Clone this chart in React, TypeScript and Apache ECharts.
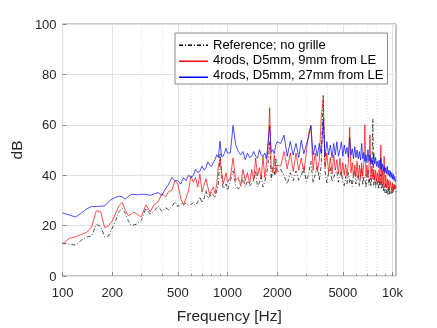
import React, { useEffect, useRef } from 'react';
import * as echarts from 'echarts';

// Frequency bins [Hz]
const freqHz = [
  100, 110, 120, 130, 140, 150, 160, 170, 180, 190, 200, 210, 220, 230, 240, 250, 260, 270, 280, 290, 300,
  320, 340, 360, 380, 400, 420, 440, 460, 480, 500, 520, 540, 560, 580, 600, 620, 640, 660, 680, 700,
  720, 740, 760, 780, 800, 820, 840, 860, 880, 900, 920, 940, 960, 980, 1000,
  1040, 1080, 1120, 1160, 1200, 1240, 1280, 1320, 1360, 1400, 1440, 1480, 1520, 1560, 1600, 1640, 1680,
  1720, 1760, 1800, 1840, 1880, 1920, 1960, 2000,
  2100, 2200, 2300, 2400, 2500, 2600, 2700, 2800, 2900, 3000,
  3100, 3200, 3300, 3400, 3500, 3600, 3700, 3800, 3900, 4000,
  4100, 4200, 4300, 4400, 4500, 4600, 4700, 4800, 4900, 5000,
  5100, 5200, 5300, 5400, 5500, 5600, 5700, 5800, 5900, 6000,
  6100, 6200, 6300, 6400, 6500, 6600, 6700, 6800, 6900, 7000,
  7100, 7200, 7300, 7400, 7500, 7600, 7700, 7800, 7900, 8000,
  8100, 8200, 8300, 8400, 8500, 8600, 8700, 8800, 8900, 9000,
  9100, 9200, 9300, 9400, 9500, 9600, 9700, 9800, 9900, 10000,
  10100, 10200, 10300, 10400, 10500,
];

// Reference; no grille [dB]
const referenceDb = [
  13.0, 12.6, 12.3, 14.2, 15.5, 15.8, 20.5, 19.7, 15.5, 15.9, 19.0, 22.0, 25.5, 26.9, 24.8, 22.0, 20.1, 20.3, 20.5, 21.3, 22.0,
  26.9, 24.6, 25.8, 27.9, 25.6, 27.1, 26.3, 27.5, 29.5, 27.5, 28.8, 28.2, 29.0, 28.0, 28.4, 29.1, 28.0, 29.5, 31.4, 29.1,
  30.5, 34.0, 30.8, 31.5, 33.3, 32.0, 31.0, 34.0, 36.5, 48.8, 40.4, 34.6, 35.3, 36.5, 34.0,
  37.8, 41.7, 36.0, 34.6, 35.3, 39.1, 35.3, 37.8, 35.9, 36.5, 38.0, 41.7, 35.3, 37.0, 39.8, 35.3, 37.5,
  40.0, 44.3, 53.3, 38.0, 43.0, 40.0, 46.8, 41.0,
  42.3, 39.8, 36.5, 41.0, 37.8, 41.7, 38.0, 39.8, 43.6, 37.5,
  40.4, 45.6, 37.0, 40.4, 43.6, 38.0, 44.3, 72.0, 41.7, 37.0,
  41.0, 43.0, 37.5, 39.1, 41.0, 41.7, 37.2, 40.0, 41.7, 37.0,
  35.9, 39.5, 36.5, 41.0, 37.0, 38.5, 35.5, 40.0, 42.3, 36.5,
  39.0, 39.8, 35.5, 40.0, 43.0, 36.0, 39.5, 39.1, 35.0, 40.0,
  42.3, 36.0, 39.0, 35.5, 40.5, 62.3, 36.0, 39.8, 35.0, 38.5,
  37.2, 34.5, 38.0, 35.0, 40.4, 34.5, 37.5, 33.5, 35.9, 33.0,
  36.5, 33.0, 34.6, 32.0, 35.5, 32.5, 34.0, 32.7, 35.0, 33.0,
  35.5, 34.0, 35.9, 34.0, 33.5,
];

// 4rods, D5mm, 9mm from LE [dB]
const rods9mmDb = [
  12.8, 15.0, 15.6, 16.5, 17.3, 19.5, 25.9, 25.5, 19.2, 20.0, 21.8, 25.0, 28.0, 29.2, 26.0, 24.0, 24.5, 25.3, 24.8, 24.0, 23.5,
  28.2, 25.5, 28.4, 29.5, 32.7, 31.4, 33.5, 34.0, 37.8, 36.5, 30.8, 28.2, 30.8, 34.0, 39.8, 37.2, 39.1, 35.3, 40.4, 33.3,
  36.0, 38.5, 35.3, 32.0, 34.0, 35.3, 32.7, 36.5, 43.6, 46.5, 41.7, 36.5, 38.5, 41.0, 37.2,
  39.1, 46.8, 38.0, 39.1, 35.9, 42.3, 37.8, 41.0, 36.5, 42.3, 37.8, 46.8, 39.8, 43.0, 38.5, 47.5, 39.1,
  44.0, 50.7, 66.8, 43.0, 41.0, 48.1, 40.4, 44.0,
  43.6, 49.4, 42.5, 48.8, 41.5, 48.8, 42.0, 46.8, 41.0, 48.8,
  56.5, 59.7, 42.0, 48.8, 41.5, 46.0, 63.6, 70.0, 43.0, 48.8,
  41.0, 47.0, 40.5, 48.1, 42.0, 46.2, 40.5, 46.8, 39.5, 45.0,
  40.0, 44.3, 39.5, 45.0, 59.0, 41.0, 45.0, 39.0, 44.0, 39.5,
  45.6, 38.5, 44.0, 39.0, 44.9, 39.5, 45.0, 60.0, 39.5, 44.0,
  39.0, 43.5, 56.0, 38.5, 43.6, 38.5, 42.3, 38.0, 42.0, 37.5,
  41.0, 37.0, 42.3, 37.0, 52.0, 36.5, 42.0, 36.0, 47.5, 35.5,
  40.0, 35.0, 38.5, 34.5, 38.0, 34.0, 37.5, 35.9, 34.0, 37.0,
  33.5, 36.5, 34.6, 36.0, 35.0,
];

// 4rods, D5mm, 27mm from LE [dB]
const rods27mmDb = [
  25.0, 24.2, 23.4, 25.0, 26.6, 27.6, 27.6, 27.7, 27.8, 29.5, 30.6, 31.2, 31.7, 31.4, 30.5, 31.5, 32.3, 32.4, 32.2, 32.3, 32.4,
  32.4, 32.0, 32.6, 33.1, 32.0, 34.5, 36.5, 39.1, 37.8, 37.8, 36.5, 39.0, 37.8, 40.0, 39.1, 39.8, 42.3, 41.0, 41.5, 43.6,
  42.0, 43.0, 45.3, 44.0, 43.6, 45.0, 46.2, 48.1, 47.0, 53.5, 47.5, 47.5, 49.0, 50.7, 48.8,
  48.8, 59.7, 52.0, 49.5, 48.1, 49.4, 46.2, 48.8, 47.0, 47.5, 49.4, 47.5, 46.8, 50.1, 48.0, 47.5, 48.8,
  46.5, 52.6, 59.7, 49.0, 50.1, 48.5, 52.0, 53.3,
  52.6, 55.9, 47.5, 53.3, 48.0, 52.6, 47.0, 53.9, 48.5, 52.0,
  55.2, 59.7, 48.0, 52.0, 47.5, 52.6, 48.5, 62.0, 47.5, 53.3,
  48.0, 52.0, 47.0, 52.6, 48.0, 53.3, 47.5, 50.1, 53.3, 47.5,
  52.0, 48.5, 51.0, 47.0, 55.0, 48.0, 50.5, 46.5, 51.4, 47.0,
  50.0, 46.5, 49.4, 46.0, 52.6, 46.5, 49.0, 45.5, 48.1, 45.0,
  50.1, 45.5, 48.0, 44.5, 46.8, 44.0, 48.8, 44.5, 47.0, 43.5,
  45.6, 43.0, 46.0, 42.5, 46.8, 42.0, 44.5, 41.5, 43.6, 41.0,
  43.0, 40.5, 43.6, 40.0, 42.0, 39.5, 41.7, 39.0, 41.0, 38.5,
  40.4, 38.0, 39.5, 37.5, 38.0,
];

const seriesNames = ['Reference; no grille', '4rods, D5mm, 9mm from LE', '4rods, D5mm, 27mm from LE'];
const seriesColors = ['#000000', '#ff0000', '#0000ff'];
const majorTicks = [100, 200, 500, 1000, 2000, 5000, 10000];
const minorTicks = [300, 400, 600, 700, 800, 900, 3000, 4000, 6000, 7000, 8000, 9000];

const FONT = '"Liberation Sans", Arial, Helvetica, sans-serif';
const AXIS_GRAY = '#8a8a8a';
const DASH_DOT = [4, 2, 1, 2];

// legend layout
const LEG_LEFT = 175;
const LEG_TOP = 33;
const LEG_PAD = [5, 4, 3, 3];
const LEG_ITEM_W = 29;
const LEG_ITEM_H = 14;
const LEG_GAP = 2;

export default function App() {
  const ref = useRef<HTMLDivElement>(null);
  useEffect(() => {
    const chart = echarts.init(ref.current as HTMLDivElement, null, { renderer: 'svg' });
    const pair = (ys: number[]) => freqHz.map((f, i) => [f, ys[i]]);
    const values = [referenceDb, rods9mmDb, rods27mmDb];
    const x0 = LEG_LEFT + LEG_PAD[3] + 1;
    const rowY = (i: number) => LEG_TOP + LEG_PAD[0] + LEG_ITEM_H / 2 + i * (LEG_ITEM_H + LEG_GAP);
    const sampleMarks: any[] = [];
    const pattern = [4, 1];
    let x = x0;
    let k = 0;
    while (x < x0 + LEG_ITEM_W) {
      const w = Math.min(pattern[k % 2], x0 + LEG_ITEM_W - x);
      sampleMarks.push({
        type: 'rect', z: 100, silent: true,
        shape: { x, y: rowY(0) - 0.5, width: w, height: 1.5 },
        style: { fill: seriesColors[0] },
      });
      x += w + 2;
      k += 1;
    }
    [1, 2].forEach((i) => {
      sampleMarks.push({
        type: 'rect', z: 100, silent: true,
        shape: { x: x0, y: rowY(i) - 0.5, width: LEG_ITEM_W, height: 1.5 },
        style: { fill: seriesColors[i] },
      });
    });
    chart.setOption({
      animation: false,
      textStyle: { fontFamily: FONT },
      grid: {
        left: 57, right: 41, top: 24, bottom: 45,
        show: true, borderColor: AXIS_GRAY, borderWidth: 1, backgroundColor: 'transparent',
      },
      legend: {
        orient: 'vertical', left: LEG_LEFT, top: LEG_TOP,
        padding: LEG_PAD, itemWidth: LEG_ITEM_W, itemHeight: LEG_ITEM_H, itemGap: LEG_GAP, itemTextGap: 5,
        backgroundColor: '#ffffff', borderColor: AXIS_GRAY, borderWidth: 1,
        itemStyle: { opacity: 0 },
        lineStyle: { opacity: 0 },
        textStyle: { fontSize: 13, color: '#000000', fontFamily: FONT },
        data: seriesNames,
      },
      graphic: sampleMarks,
      xAxis: [
        {
          type: 'log', logBase: 10, min: 100, max: 10500,
          axisLine: { show: false },
          axisTick: { show: true, inside: true, length: 4, lineStyle: { color: AXIS_GRAY }, customValues: majorTicks },
          axisLabel: {
            customValues: majorTicks, color: '#262626', fontSize: 13, margin: 10, fontFamily: FONT,
            formatter: (v: number) => (v >= 10000 ? `${Math.round(v / 1000)}k` : `${Math.round(v)}`),
          },
          splitLine: { show: true, lineStyle: { color: '#e2e2e2', width: 1 } },
          name: 'Frequency [Hz]', nameLocation: 'middle', nameGap: 31,
          nameTextStyle: { fontSize: 15.5, color: '#262626', fontFamily: FONT },
        },
        {
          type: 'log', logBase: 10, min: 100, max: 10500, gridIndex: 0, position: 'bottom',
          axisLine: { show: false },
          axisLabel: { show: false },
          axisTick: { show: true, inside: true, length: 2, lineStyle: { color: AXIS_GRAY }, customValues: minorTicks },
          splitLine: { show: true, lineStyle: { color: '#e2e2e2', width: 1, type: [1, 2] } },
        },
      ],
      yAxis: {
        type: 'value', min: 0, max: 100, interval: 20,
        axisLine: { show: false },
        axisTick: { show: true, inside: true, length: 4, lineStyle: { color: AXIS_GRAY } },
        axisLabel: { color: '#262626', fontSize: 13, margin: 6, fontFamily: FONT },
        splitLine: { show: true, lineStyle: { color: '#e2e2e2', width: 1 } },
        name: 'dB', nameLocation: 'middle', nameGap: 35,
        nameTextStyle: { fontSize: 15.5, color: '#262626', fontFamily: FONT },
      },
      series: seriesNames.map((name, i) => ({
        name, type: 'line', xAxisIndex: 0, data: pair(values[i]), symbol: 'none',
        lineStyle: { color: seriesColors[i], width: 0.7, type: i === 0 ? DASH_DOT : 'solid' },
        itemStyle: { color: seriesColors[i] },
      })),
    });
    return () => chart.dispose();
  }, []);
  return <div ref={ref} style={{ position: 'fixed', left: 0, top: 0, width: 437, height: 328 }} />;
}
